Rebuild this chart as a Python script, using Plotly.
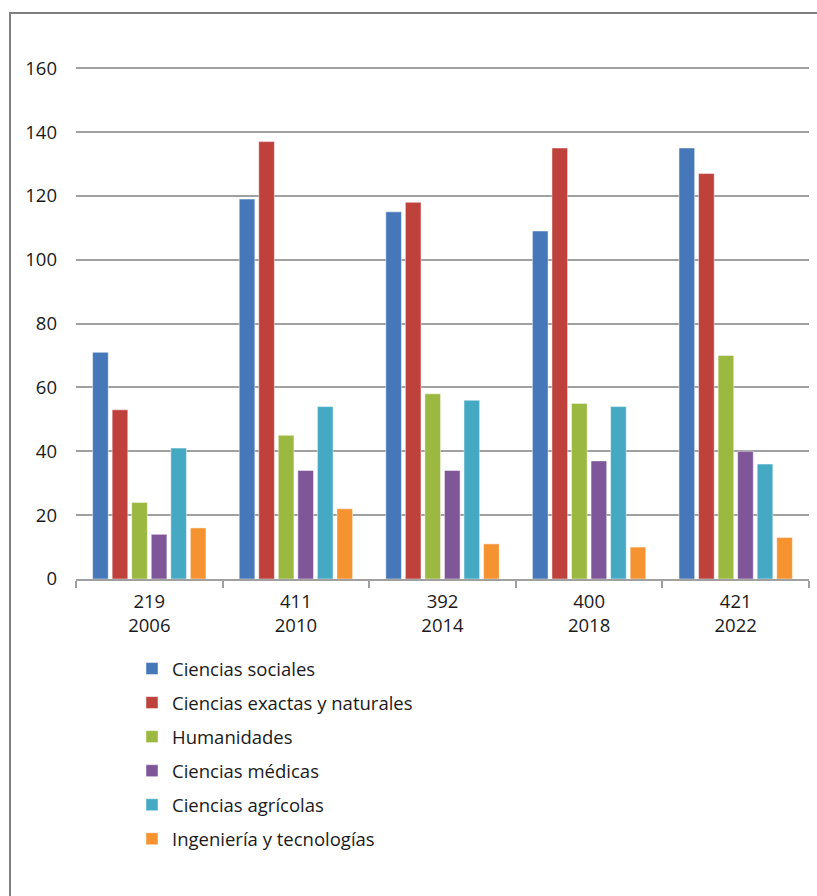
import plotly.graph_objects as go

years = ["2006", "2010", "2014", "2018", "2022"]
totals = ["219", "411", "392", "400", "421"]
series_names = [
    "Ciencias sociales",
    "Ciencias exactas y naturales",
    "Humanidades",
    "Ciencias médicas",
    "Ciencias agrícolas",
    "Ingeniería y tecnologías",
]
sociales = [71, 119, 115, 109, 135]
exactas = [53, 137, 118, 135, 127]
humanidades = [24, 45, 58, 55, 70]
medicas = [14, 34, 34, 37, 40]
agricolas = [41, 54, 56, 54, 36]
ingenieria = [16, 22, 11, 10, 13]
colors = ["#4677B8", "#BE413C", "#9BB840", "#7F5798", "#46A9C4", "#F59331"]

values = [sociales, exactas, humanidades, medicas, agricolas, ingenieria]
cats = [f"{t}<br>{y}" for t, y in zip(totals, years)]

FONT = "Open Sans"
fig = go.Figure()
for i, (name, vals, col) in enumerate(zip(series_names, values, colors)):
    fig.add_trace(go.Bar(
        x=cats, y=vals, name=name,
        marker=dict(color=col, line=dict(color="rgba(255,255,255,0.6)", width=0.8)),
        legendgroup=f"g{i}",
    ))

W, H = 817, 896
L, R, T, B = 76, 8, 65, 317
pw, ph = W - L - R, H - T - B

def px_x(p):
    return (p - L) / pw

def px_y(p):
    return (H - B - p) / ph

frame = dict(color="#7f7f7f", width=2)
shapes = [
    dict(type="line", xref="paper", yref="paper", x0=px_x(10), x1=px_x(10),
         y0=px_y(12), y1=px_y(900), line=frame),
    dict(type="line", xref="paper", yref="paper", x0=px_x(9), x1=px_x(820),
         y0=px_y(13), y1=px_y(13), line=frame),
]

fig.update_layout(
    width=W, height=H,
    margin=dict(l=L, r=R, t=T, b=B, autoexpand=False),
    paper_bgcolor="white", plot_bgcolor="white",
    font=dict(family=FONT, size=18, color="#1a1a1a"),
    barmode="group", bargap=0.2, bargroupgap=0.2,
    showlegend=True,
    legend=dict(
        xref="container", yref="container",
        x=132 / W, y=1 - 650 / H, xanchor="left", yanchor="top",
        font=dict(family=FONT, size=18.5, color="#1a1a1a"),
        tracegroupgap=7, itemwidth=30,
        bgcolor="rgba(0,0,0,0)",
    ),
    xaxis=dict(
        showline=True, linecolor="#a0a0a0", linewidth=1.5,
        ticks="outside", tickson="boundaries", ticklen=7, tickcolor="#a0a0a0",
        tickwidth=1.5, showgrid=False, tickfont=dict(size=18.5),
        ticklabelstandoff=5,
    ),
    yaxis=dict(
        range=[0, 161], tickmode="array", tickvals=list(range(0, 161, 20)),
        showgrid=True, gridcolor="#a0a0a0", gridwidth=1.5,
        zeroline=False, showline=False, ticks="", ticklabelstandoff=18,
        tickfont=dict(size=18.5),
    ),
    shapes=shapes,
)

fig.write_html("out.html")
